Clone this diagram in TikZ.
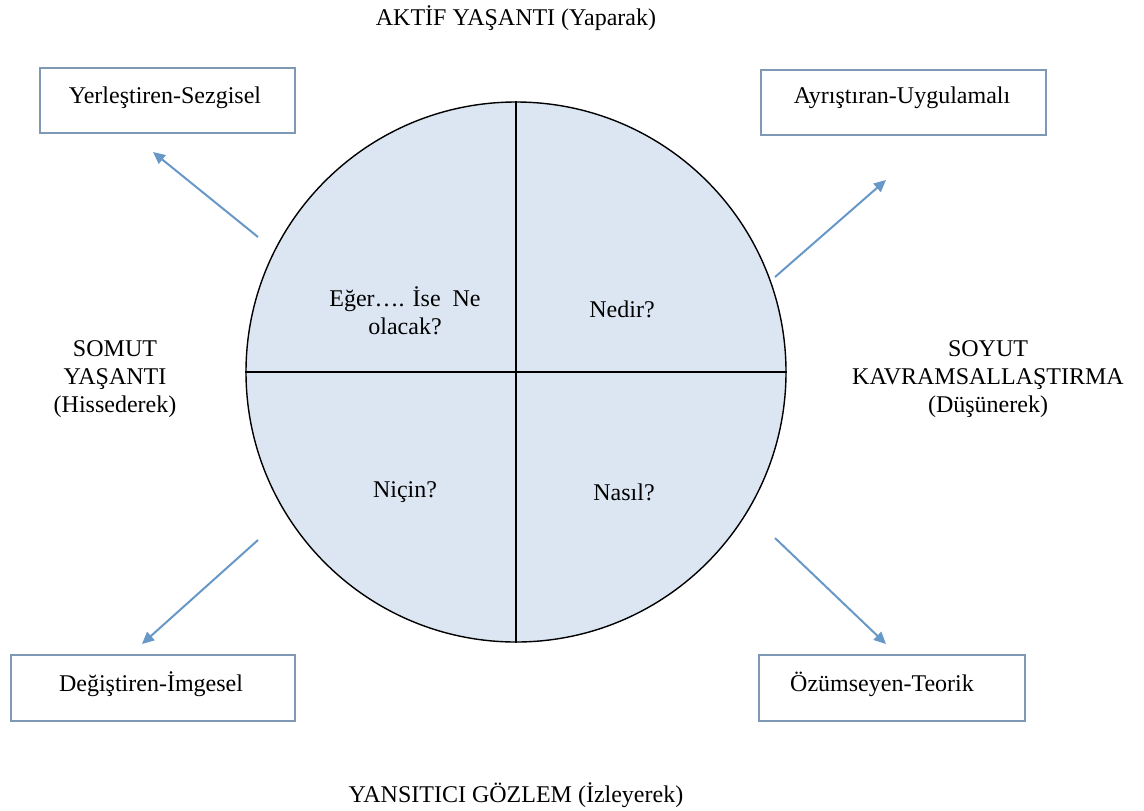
\documentclass[tikz,border=0pt]{standalone}
\usepackage{fontspec}
\setmainfont{Liberation Serif}
\usetikzlibrary{arrows.meta}
\definecolor{circfill}{RGB}{220,230,242}
\definecolor{boxline}{RGB}{126,152,182}
\definecolor{arrowblue}{RGB}{104,152,200}
\tikzset{
  lbl/.style={font=\fontsize{12}{13.8}\selectfont, align=center, inner sep=0pt},
  stylebox/.style={draw=boxline, line width=0.7pt, fill=white},
  flowarrow/.style={draw=arrowblue, line width=1pt, -{Triangle[length=6pt,width=5.5pt]}},
}
\begin{document}
\begin{tikzpicture}[x=0.5pt,y=-0.5pt]
\useasboundingbox[fill=white] (0,0) rectangle (1144,810);
% circle
\node[circle, draw=black, line width=0.7pt, fill=circfill, minimum size=270pt, inner sep=0pt] (circ) at (516,372) {};
\draw[line width=0.7pt] (circ.north) -- (circ.south);
\draw[line width=0.7pt] (circ.west) -- (circ.east);
% quadrant texts
\node[lbl] (q1) at (405,311) {Eğer…. İse\ \ Ne\\olacak?};
\node[lbl] (q2) at (622,309) {Nedir?};
\node[lbl] (q3) at (405,492) {Niçin?};
\node[lbl] (q4) at (624,492) {Nasıl?};
% axis labels
\node[lbl] (top) at (516,18) {AKTİF YAŞANTI (Yaparak)};
\node[lbl] (bot) at (516,795) {YANSITICI GÖZLEM (İzleyerek)};
\node[lbl] (left) at (115,379) {SOMUT\\YAŞANTI\\(Hissederek)};
\node[lbl] (right) at (988,379) {SOYUT\\KAVRAMSALLAŞTIRMA\\(Düşünerek)};
% boxes
\node[stylebox, minimum width=127.5pt, minimum height=32.5pt, inner sep=0pt] (b1) at (167.5,100.5) {};
\node[lbl] (t1) at (165,98) {Yerleştiren-Sezgisel};
\node[stylebox, minimum width=142.5pt, minimum height=32.5pt, inner sep=0pt] (b2) at (903.5,102.5) {};
\node[lbl] (t2) at (902,98) {Ayrıştıran-Uygulamalı};
\node[stylebox, minimum width=142pt, minimum height=33pt, inner sep=0pt] (b3) at (153,688) {};
\node[lbl] (t3) at (151,684) {Değiştiren-İmgesel};
\node[stylebox, minimum width=133pt, minimum height=33pt, inner sep=0pt] (b4) at (892,688) {};
\node[lbl] (t4) at (882,684) {Özümseyen-Teorik};
% arrows
\coordinate (a1s) at (258,237); \coordinate (a1e) at (153,152);
\coordinate (a2s) at (775,277); \coordinate (a2e) at (886,180);
\coordinate (a3s) at (258,540); \coordinate (a3e) at (142,644);
\coordinate (a4s) at (775,538); \coordinate (a4e) at (886,644);
\draw[flowarrow] (a1s) -- (a1e);
\draw[flowarrow] (a2s) -- (a2e);
\draw[flowarrow] (a3s) -- (a3e);
\draw[flowarrow] (a4s) -- (a4e);
\end{tikzpicture}
\end{document}
